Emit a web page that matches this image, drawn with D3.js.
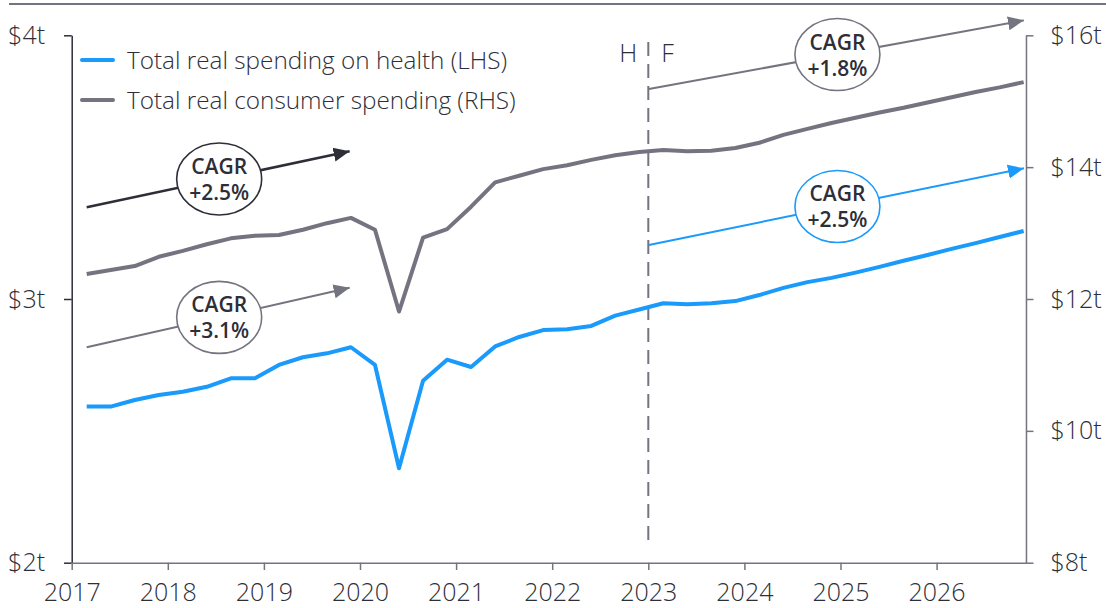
<!DOCTYPE html>
<html><head><meta charset="utf-8">
<script src="https://cdn.jsdelivr.net/npm/d3@7"></script>
<style>
body{margin:0;background:#fff;}
svg{display:block;font-family:"Open Sans",sans-serif;}
</style></head><body>
<svg id="chart" width="1106" height="608"></svg>
<script>
// ---------- data ----------
const quarters = [
  "2017Q1","2017Q2","2017Q3","2017Q4","2018Q1","2018Q2","2018Q3","2018Q4",
  "2019Q1","2019Q2","2019Q3","2019Q4","2020Q1","2020Q2","2020Q3","2020Q4",
  "2021Q1","2021Q2","2021Q3","2021Q4","2022Q1","2022Q2","2022Q3","2022Q4",
  "2023Q1","2023Q2","2023Q3","2023Q4","2024Q1","2024Q2","2024Q3","2024Q4",
  "2025Q1","2025Q2","2025Q3","2025Q4","2026Q1","2026Q2","2026Q3","2026Q4"];
// Total real spending on health, $t (LHS)
const healthSpending = [
  2.592,2.592,2.617,2.636, 2.648,2.667,2.699,2.699,
  2.750,2.779,2.794,2.817, 2.750,2.358,2.690,2.770,
  2.742,2.820,2.856,2.882, 2.885,2.898,2.937,2.960,
  2.984,2.980,2.984,2.992, 3.015,3.042,3.064,3.080,
  3.100,3.122,3.145,3.167, 3.190,3.212,3.235,3.258];
// Total real consumer spending, $t (RHS)
const consumerSpending = [
  12.38,12.44,12.50,12.64, 12.73,12.83,12.92,12.96,
  12.97,13.05,13.15,13.23, 13.05,11.81,12.93,13.06,
  13.40,13.77,13.87,13.97, 14.03,14.11,14.18,14.23,
  14.26,14.24,14.25,14.29, 14.37,14.49,14.58,14.67,
  14.75,14.83,14.90,14.98, 15.06,15.14,15.21,15.29];
const yearTicks = [2017,2018,2019,2020,2021,2022,2023,2024,2025,2026];
const leftTicks = [2,3,4];
const rightTicks = [8,10,12,14,16];
const seriesNames = ["Total real spending on health (LHS)","Total real consumer spending (RHS)"];
// CAGR arrows: [year, LHS value]
const cagrStart = [[2017.156,3.348],[2017.156,2.817],[2023.006,3.796],[2023.006,3.205]];
const cagrEnd   = [[2019.913,3.562],[2019.913,3.044],[2026.93,4.058],[2026.93,3.497]];
const cagrText  = ["+2.5%","+3.1%","+1.8%","+2.5%"];
const forecastStart = 2023;
const periodLabels = ["H","F"];

// ---------- setup ----------
const BLUE = "#1a9afa", GRAY = "#747480", DARK = "#2e2e38";
const cagrColors = [DARK, GRAY, GRAY, BLUE];
const svg = d3.select("#chart");
const x = d3.scaleLinear().domain([2017, 2027]).range([71.7, 1032.7]);
const xEnd = 2026.93;
const yL = d3.scaleLinear().domain([2, 4]).range([562.7, 35.3]);
const yR = d3.scaleLinear().domain([8, 16]).range([562.7, 35.3]);
const qx = q => +q.slice(0,4) + (+q.slice(5) - 1) * 0.25 + 0.156;

// top rule
svg.append("line").attr("x1", 9).attr("x2", 1106).attr("y1", 4).attr("y2", 4)
  .attr("stroke", GRAY).attr("stroke-width", 2);

// axes
const fmt = d => "$" + d + "t";
const gL = svg.append("g").attr("transform", `translate(${x(2017)},0)`)
  .call(d3.axisLeft(yL).tickValues(leftTicks).tickFormat(fmt).tickSize(7.7).tickSizeOuter(0).tickPadding(19));
const gR = svg.append("g").attr("transform", `translate(${x(xEnd)},0)`)
  .call(d3.axisRight(yR).tickValues(rightTicks).tickFormat(fmt).tickSize(7.5).tickSizeOuter(0).tickPadding(17));
const xAxisScale = x.copy().domain([2017, xEnd]).range([x(2017), x(xEnd)]);
const gB = svg.append("g").attr("transform", `translate(0,${yL(2)})`)
  .call(d3.axisBottom(xAxisScale).tickValues(yearTicks).tickFormat(d3.format("d")).tickSize(7.3).tickSizeOuter(0).tickPadding(13));
[[gL, DARK], [gR, GRAY], [gB, GRAY]].forEach(([g, c]) => {
  g.selectAll("path.domain").attr("stroke", c).attr("stroke-width", 1.5);
  g.selectAll(".tick line").attr("stroke", c).attr("stroke-width", 1.5);
  g.selectAll("text").attr("fill", DARK).attr("font-size", 25)
    .attr("font-family", '"Open Sans", sans-serif').attr("font-weight", 300);
});

// forecast divider
svg.append("line").attr("x1", x(forecastStart)).attr("x2", x(forecastStart))
  .attr("y1", yL(3.975)).attr("y2", yL(2.067))
  .attr("stroke", GRAY).attr("stroke-width", 2).attr("stroke-dasharray", "14,8");
svg.append("text").attr("x", x(forecastStart) - 11).attr("y", 62).attr("text-anchor", "end")
  .attr("font-size", 25).attr("font-weight", 300).attr("fill", DARK).text(periodLabels[0]);
svg.append("text").attr("x", x(forecastStart) + 13).attr("y", 62).attr("text-anchor", "start")
  .attr("font-size", 25).attr("font-weight", 300).attr("fill", DARK).text(periodLabels[1]);

// data lines
const lineL = d3.line().x((d, i) => x(qx(quarters[i]))).y(d => yL(d));
const lineR = d3.line().x((d, i) => x(qx(quarters[i]))).y(d => yR(d));
svg.append("path").datum(consumerSpending).attr("d", lineR).attr("fill", "none")
  .attr("stroke", GRAY).attr("stroke-width", 4).attr("stroke-linejoin", "round");
svg.append("path").datum(healthSpending).attr("d", lineL).attr("fill", "none")
  .attr("stroke", BLUE).attr("stroke-width", 4).attr("stroke-linejoin", "round");

// arrow markers
const defs = svg.append("defs");
cagrColors.forEach((c, i) => {
  defs.append("marker").attr("id", "arr" + i).attr("markerUnits", "userSpaceOnUse")
    .attr("viewBox", "0 -8 17 16").attr("refX", 16).attr("refY", 0)
    .attr("markerWidth", 17).attr("markerHeight", 16).attr("orient", "auto")
    .append("path").attr("d", "M0,-7L16,0L0,7Z").attr("fill", c);
});

// CAGR annotations
cagrText.forEach((t, i) => {
  const x1 = x(cagrStart[i][0]), y1 = yL(cagrStart[i][1]);
  const x2 = x(cagrEnd[i][0]), y2 = yL(cagrEnd[i][1]);
  const g = svg.append("g");
  g.append("line").attr("x1", x1).attr("y1", y1).attr("x2", x2 - 2).attr("y2", y2 + (y1 - y2) * 2 / (x2 - x1))
    .attr("stroke", cagrColors[i]).attr("stroke-width", i === 0 ? 2.5 : 2)
    .attr("marker-end", `url(#arr${i})`);
  const cx = (x1 + x2) / 2, cy = (y1 + y2) / 2;
  g.append("ellipse").attr("cx", cx).attr("cy", cy).attr("rx", 42.5).attr("ry", 36)
    .attr("fill", "#fff").attr("stroke", cagrColors[i]).attr("stroke-width", 1.6);
  g.append("text").attr("x", cx).attr("y", cy - 5).attr("text-anchor", "middle")
    .attr("font-size", 21).attr("font-weight", 600).attr("fill", DARK).text("CAGR");
  g.append("text").attr("x", cx).attr("y", cy + 21).attr("text-anchor", "middle")
    .attr("font-size", 21).attr("font-weight", 600).attr("fill", DARK).text(t);
});

// legend
const legendColors = [BLUE, GRAY];
seriesNames.forEach((n, i) => {
  const ly = 60 + i * 40;
  svg.append("line").attr("x1", 82).attr("x2", 113).attr("y1", ly).attr("y2", ly)
    .attr("stroke", legendColors[i]).attr("stroke-width", 4).attr("stroke-linecap", "round");
  svg.append("text").attr("x", 127).attr("y", ly).attr("dy", "0.35em")
    .attr("font-size", 24.3).attr("font-weight", 300).attr("fill", DARK).text(n);
});
</script>
</body></html>
